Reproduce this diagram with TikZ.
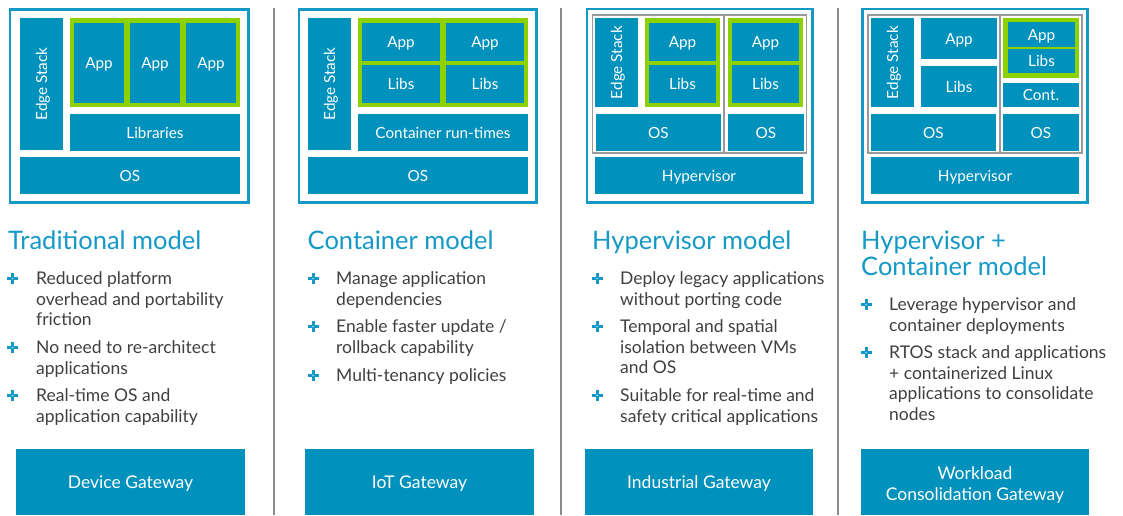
\documentclass[tikz,border=0pt]{standalone}
\usepackage{fontspec}
\setmainfont{Lato}
\usepackage{tikz}
\usetikzlibrary{fit}

\definecolor{boxblue}{HTML}{0091BD}
\definecolor{headblue}{HTML}{1499C6}
\definecolor{appgreen}{HTML}{8DD100}
\definecolor{bodygray}{HTML}{3F3F3F}
\definecolor{rulegray}{HTML}{8C8C8C}
\definecolor{vmgray}{HTML}{9A9A9A}

% lines stacked from the first baseline down
\newcommand\lines[1]{\begin{tabular}[t]{@{}l@{}}#1\end{tabular}}

\tikzset{
    layertext/.style = {text = white, inner sep = 0pt, text height = 11pt, text depth = 0pt,
        font = \fontsize{15.3}{18}\selectfont},
    layer/.style = {rectangle, fill = boxblue, inner sep = 0pt, label = {[layertext]center:#1}},
    upright/.style = {rectangle, fill = boxblue, inner sep = 0pt, label = {[layertext, rotate = 90]center:#1}},
    appframe/.style = {rectangle, fill = appgreen, inner sep = 0pt},
    vm/.style = {rectangle, draw = vmgray, line width = 1.5pt, inner sep = 0pt},
    panel/.style = {rectangle, draw = headblue, line width = 2.2pt, inner sep = 0pt},
    gatetext/.style = {text = white, inner sep = 0pt, align = center, font = \fontsize{17.5}{21}\selectfont},
    gateline/.style = {gatetext, text height = 12.5pt, text depth = 0pt},
    gateway/.style = {rectangle, fill = boxblue, inner sep = 0pt},
    heading/.style = {anchor = base west, inner sep = 0pt, text = headblue,
        font = \fontsize{25.5}{26}\selectfont},
    point/.style = {anchor = base west, inner sep = 0pt, text = bodygray,
        font = \fontsize{17.5}{20.5}\selectfont},
    plusmark/.pic = {
        \fill [headblue] (-5.5,-1.5) rectangle (5.5,1.5);
        \fill [headblue] (-1.5,-5.5) rectangle (1.5,5.5);
        \fill [headblue!35] (0,0) circle (0.9);
    }
}

\begin{document}
\begin{tikzpicture}[x = 1pt, y = 1pt]
    \useasboundingbox (0,0) rectangle (1123,-515);

    % column rules
    \foreach \x in {274, 561, 838}
    {
        \draw [rulegray, line width = 2.5pt] (\x, -8) -- (\x, -515);
    }

    % traditional model
    \node [panel, fit = {(10,-9.5) (248.5,-202.5)}] (panel1) {};
    \node [upright = Edge Stack, fit = {(20,-18) (63,-150)}] (edge1) {};
    \node [appframe, fit = {(70,-18) (240,-107)}] (apps1) {};
    \foreach \x/\n in {74/a, 130/b, 186/c}
    {
        \node [layer = App, fit = {(\x,-23) (\x+50,-103)}] (app1\n) {};
    }
    \node [layer = Libraries, fit = {(70,-114) (240,-151)}] (libs1) {};
    \node [layer = OS, fit = {(20,-157) (240,-194)}] (os1) {};

    % container model
    \node [panel, fit = {(299,-9.5) (536.5,-202.5)}] (panel2) {};
    \node [upright = Edge Stack, fit = {(308,-18) (351,-150)}] (edge2) {};
    \node [appframe, fit = {(358,-18) (528,-107)}] (apps2) {};
    \foreach \x/\n in {362/a, 446/b}
    {
        \node [layer = App, fit = {(\x,-23) (\x+78,-61)}] (app2\n) {};
        \node [layer = Libs, fit = {(\x,-65) (\x+78,-103)}] (libs2\n) {};
    }
    \node [layer = Container run-times, fit = {(358,-114) (528,-151)}] (runtime2) {};
    \node [layer = OS, fit = {(308,-157) (528,-194)}] (os2) {};

    % hypervisor model
    \node [panel, fit = {(587,-9) (812.5,-202.5)}] (panel3) {};
    \node [vm, fit = {(592.5,-15) (724,-153)}] (vm3a) {};
    \node [vm, fit = {(724,-15) (806.5,-153)}] (vm3b) {};
    \node [upright = Edge Stack, fit = {(595,-18) (638,-107)}] (edge3) {};
    \foreach \x/\n in {649/a, 732/b}
    {
        \node [appframe, fit = {(\x-4,-18) (\x+71,-107)}] (apps3\n) {};
        \node [layer = App, fit = {(\x,-23) (\x+67,-61)}] (app3\n) {};
        \node [layer = Libs, fit = {(\x,-65) (\x+67,-103)}] (libs3\n) {};
    }
    \node [layer = OS, fit = {(596,-114) (721,-151)}] (os3a) {};
    \node [layer = OS, fit = {(728,-114) (804,-151)}] (os3b) {};
    \node [layer = Hypervisor, fit = {(595,-157) (803,-194)}] (hyp3) {};

    % hypervisor + container model
    \node [panel, fit = {(862.5,-9) (1087.5,-202.5)}] (panel4) {};
    \node [vm, fit = {(868,-15) (1000,-153)}] (vm4a) {};
    \node [vm, fit = {(1000,-15) (1082,-153)}] (vm4b) {};
    \node [upright = Edge Stack, fit = {(871,-18) (914,-107)}] (edge4) {};
    \node [layer = App, fit = {(921,-18) (997,-59)}] (app4a) {};
    \node [layer = Libs, fit = {(921,-66) (997,-107)}] (libs4a) {};
    \node [appframe, fit = {(1003,-18) (1079,-78)}] (apps4) {};
    \node [layer = App, fit = {(1008,-22) (1075,-47)}] (app4b) {};
    \node [layer = Libs, fit = {(1008,-49) (1075,-73)}] (libs4b) {};
    \node [layer = Cont., fit = {(1003,-83) (1079,-107)}] (cont4) {};
    \node [layer = OS, fit = {(871,-114) (996,-151)}] (os4a) {};
    \node [layer = OS, fit = {(1003,-114) (1079,-151)}] (os4b) {};
    \node [layer = Hypervisor, fit = {(871,-157) (1079,-194)}] (hyp4) {};

    % headings
    \node [heading] (head1) at (8,-249) {Traditional model};
    \node [heading] (head2) at (307.5,-249) {Container model};
    \node [heading] (head3) at (592,-249) {Hypervisor model};
    \node [heading] (head4) at (861,-249) {\lines{Hypervisor +\\Container model}};

    % bullet marks
    \foreach \y in {284.5, 353.5, 401.5}
    {
        \pic at (12.5,6-\y) {plusmark};
    }
    \foreach \y in {284.5, 332.5, 381.5}
    {
        \pic at (313,6-\y) {plusmark};
    }
    \foreach \y in {284.5, 332.5, 401.5}
    {
        \pic at (597,6-\y) {plusmark};
    }
    \foreach \y in {310.5, 358.5}
    {
        \pic at (866,6-\y) {plusmark};
    }

    % bullet texts
    \node [point] (pt1a) at (36,-284.5) {\lines{Reduced platform\\overhead and portability\\friction}};
    \node [point] (pt1b) at (36,-353.5) {\lines{No need to re-architect\\applications}};
    \node [point] (pt1c) at (36,-401.5) {\lines{Real-time OS and\\application capability}};

    \node [point] (pt2a) at (336,-284.5) {\lines{Manage application\\dependencies}};
    \node [point] (pt2b) at (336,-332.5) {\lines{Enable faster update /\\rollback capability}};
    \node [point] (pt2c) at (336,-381.5) {\lines{Multi-tenancy policies}};

    \node [point] (pt3a) at (620,-284.5) {\lines{Deploy legacy applications\\without porting code}};
    \node [point] (pt3b) at (620,-332.5) {\lines{Temporal and spatial\\isolation between VMs\\and OS}};
    \node [point] (pt3c) at (620,-401.5) {\lines{Suitable for real-time and\\safety critical applications}};

    \node [point] (pt4a) at (889,-310.5) {\lines{Leverage hypervisor and\\container deployments}};
    \node [point] (pt4b) at (889,-358.5) {\lines{RTOS stack and applications\\+ containerized Linux\\applications to consolidate\\nodes}};

    % gateways
    \node [gateway, fit = {(16,-449) (245,-515)}, label = {[gateline]center:Device Gateway}] (gw1) {};
    \node [gateway, fit = {(305,-449) (534,-515)}, label = {[gateline]center:IoT Gateway}] (gw2) {};
    \node [gateway, fit = {(585,-449) (813,-515)}, label = {[gateline]center:Industrial Gateway}] (gw3) {};
    \node [gateway, fit = {(861,-449) (1089,-515)},
        label = {[gatetext, yshift = -3pt]center:Workload\\Consolidation Gateway}] (gw4) {};
\end{tikzpicture}
\end{document}
